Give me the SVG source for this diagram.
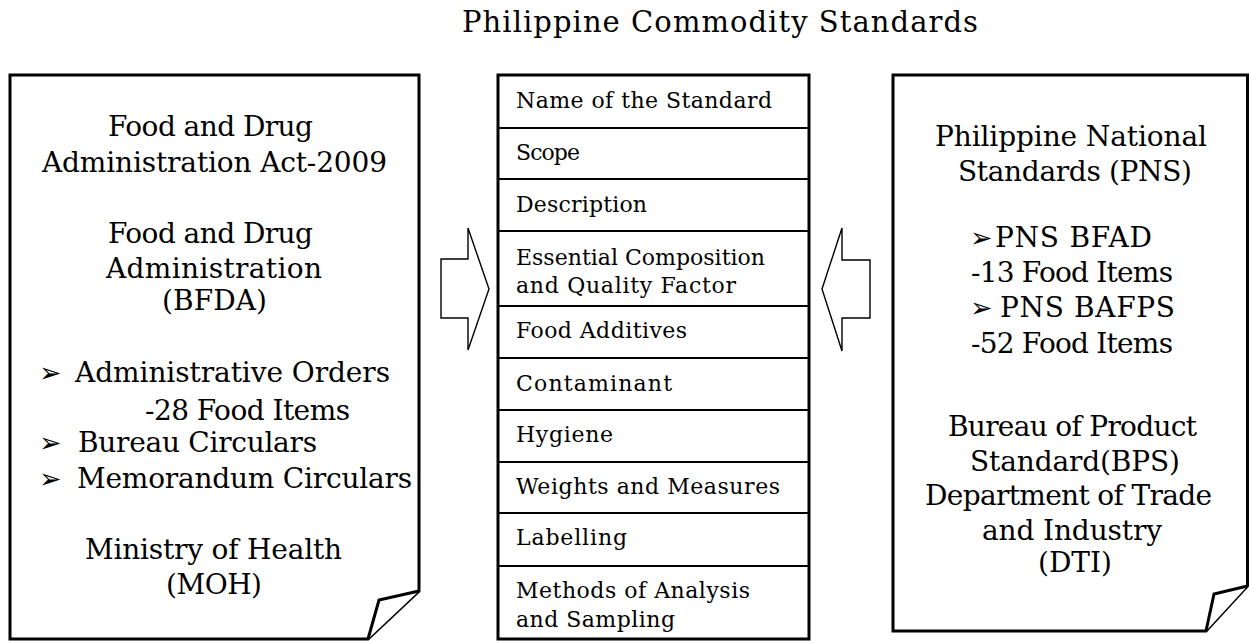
<svg xmlns="http://www.w3.org/2000/svg" width="1250" height="641" viewBox="0 0 1250 641">
<style>
  .t { font-family: "DejaVu Serif", "Liberation Serif", serif; fill: #000; }
  .big { font-size: 28px; }
  .row { font-size: 22px; }
  .title { font-size: 29px; }
  .bul { font-family: "DejaVu Sans", sans-serif; font-size: 27px; fill: #000; }
  .box { fill: #fff; stroke: #000; stroke-width: 3; stroke-linejoin: miter; }
  .flap { fill: #fff; stroke: #000; stroke-width: 3; stroke-linejoin: miter; }
  .rowline { stroke: #000; stroke-width: 1.8; }
  .blockarrow { fill: #fff; stroke: #000; stroke-width: 1.4; }
</style>
<rect x="0" y="0" width="1250" height="641" fill="#fff"/>

<text id="title" class="t title" x="462" y="32" textLength="516" lengthAdjust="spacing">Philippine Commodity Standards</text>

<g id="fda-box">
  <path class="box" d="M10,75 H419 V591 L368,639 H10 Z"/>
  <path class="flap" d="M419,591 L379,600 L368,639"/>
  <text class="t big" x="108" y="136" textLength="205">Food and Drug</text>
  <text class="t big" x="42" y="172" textLength="345">Administration Act-2009</text>
  <text class="t big" x="108" y="243" textLength="205">Food and Drug</text>
  <text class="t big" x="106" y="278" textLength="216">Administration</text>
  <text class="t big" x="162" y="310" textLength="105">(BFDA)</text>
  <text class="bul" x="39" y="382">➢</text>
  <text class="t big" x="75" y="382" textLength="315">Administrative Orders</text>
  <text class="t big" x="145" y="420" textLength="205">-28 Food Items</text>
  <text class="bul" x="39" y="452">➢</text>
  <text class="t big" x="78" y="452" textLength="239">Bureau Circulars</text>
  <text class="bul" x="39" y="488">➢</text>
  <text class="t big" x="77" y="488" textLength="335">Memorandum Circulars</text>
  <text class="t big" x="85" y="559" textLength="257">Ministry of Health</text>
  <text class="t big" x="166" y="594" textLength="96">(MOH)</text>
</g>

<g id="standard-contents">
  <rect class="box" x="498" y="75" width="311" height="564"/>
  <line class="rowline" x1="498" y1="128" x2="809" y2="128"/>
  <line class="rowline" x1="498" y1="179" x2="809" y2="179"/>
  <line class="rowline" x1="498" y1="231" x2="809" y2="231"/>
  <line class="rowline" x1="498" y1="306" x2="809" y2="306"/>
  <line class="rowline" x1="498" y1="358" x2="809" y2="358"/>
  <line class="rowline" x1="498" y1="410" x2="809" y2="410"/>
  <line class="rowline" x1="498" y1="462" x2="809" y2="462"/>
  <line class="rowline" x1="498" y1="513" x2="809" y2="513"/>
  <line class="rowline" x1="498" y1="566" x2="809" y2="566"/>
  <text class="t row" x="516" y="108" textLength="256">Name of the Standard</text>
  <text class="t row" x="516" y="160" textLength="64">Scope</text>
  <text class="t row" x="516" y="212" textLength="131">Description</text>
  <text class="t row" x="516" y="265" textLength="249">Essential Composition</text>
  <text class="t row" x="516" y="293" textLength="220">and Quality  Factor</text>
  <text class="t row" x="516" y="338" textLength="171">Food Additives</text>
  <text class="t row" x="516" y="391" textLength="156">Contaminant</text>
  <text class="t row" x="516" y="442" textLength="97">Hygiene</text>
  <text class="t row" x="516" y="494" textLength="264">Weights and Measures</text>
  <text class="t row" x="516" y="545" textLength="111">Labelling</text>
  <text class="t row" x="516" y="598" textLength="234">Methods of Analysis</text>
  <text class="t row" x="516" y="627" textLength="159">and Sampling</text>
</g>

<g id="pns-box">
  <path class="box" d="M893,75 H1247.5 V586 L1206,631 H893 Z"/>
  <path class="flap" d="M1247.5,586 L1214,594 L1206,631"/>
  <text class="t big" x="935" y="146" textLength="272">Philippine National</text>
  <text class="t big" x="958" y="181" textLength="234">Standards (PNS)</text>
  <text class="bul" x="970" y="247" font-size="22">➢</text>
  <text class="t big" x="995" y="247" textLength="157">PNS BFAD</text>
  <text class="t big" x="971" y="282" textLength="202">-13 Food Items</text>
  <text class="bul" x="970" y="317" font-size="25">➢</text>
  <text class="t big" x="1000" y="317" textLength="175">PNS BAFPS</text>
  <text class="t big" x="971" y="353" textLength="202">-52 Food Items</text>
  <text class="t big" x="948" y="436" textLength="249">Bureau of Product</text>
  <text class="t big" x="970" y="471" textLength="210">Standard(BPS)</text>
  <text class="t big" x="925" y="505" textLength="287">Department of Trade</text>
  <text class="t big" x="982" y="540" textLength="180">and Industry</text>
  <text class="t big" x="1075" y="572" text-anchor="middle">(DTI)</text>
</g>

<g id="connectors">
  <polygon class="blockarrow" points="441,259 468,259 468,228 489,289 468,350 468,318 441,318"/>
  <polygon class="blockarrow" points="822,289 842,228 842,260 870,260 870,318 842,318 842,351"/>
</g>
</svg>
